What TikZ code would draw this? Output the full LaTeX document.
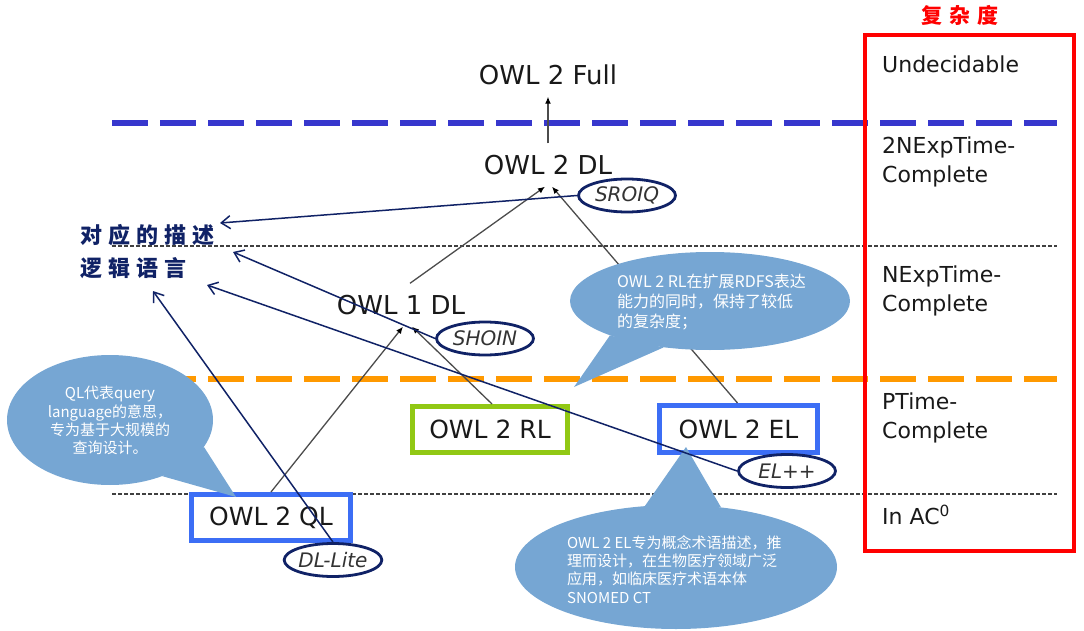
\documentclass[tikz,border=0pt]{standalone}
\usepackage{fontspec}
\setmainfont{DejaVu Sans}
\newfontfamily\cjk{Noto Sans CJK SC}
\usetikzlibrary{shapes.geometric,arrows.meta}
\definecolor{navy}{RGB}{16,34,102}
\definecolor{sepblue}{RGB}{55,55,205}
\definecolor{seporange}{RGB}{255,153,0}
\definecolor{boxblue}{RGB}{60,110,245}
\definecolor{boxgreen}{RGB}{145,200,20}
\definecolor{bubblecol}{RGB}{118,166,211}
\definecolor{txt}{RGB}{25,25,25}
\begin{document}
\begin{tikzpicture}[x=1pt,y=-1pt,
  owl/.style={inner xsep=2pt,inner ysep=12pt,text height=19pt,text depth=0pt,
    font=\fontsize{26}{30}\selectfont,text=txt},
  levelbox/.style={draw,line width=5pt,inner sep=0pt,minimum height=46pt,
    font=\fontsize{25}{30}\selectfont,text=txt},
  lab/.style={ellipse,draw=navy,line width=2.8pt,minimum width=97pt,minimum height=33pt,
    inner sep=0pt,font=\fontsize{20}{24}\selectfont\itshape,text=black!80},
  cx/.style={anchor=west,align=left,inner sep=0pt,font=\fontsize{22}{29}\selectfont,text=txt},
  grayarr/.style={draw=black!70,line width=1.3pt,-{Latex[length=7pt,width=6pt,color=black]}},
  navyarr/.style={draw=navy,line width=1.5pt,-{Straight Barb[length=9pt,width=13pt]}},
  bubble/.style={ellipse,fill=bubblecol,inner sep=0pt},
  bubtext/.style={inner sep=0pt,text=white,font=\cjk\fontsize{15}{18.3}\selectfont},
  sepline/.style={line width=6pt,dash pattern=on 36pt off 12pt},
  thinsep/.style={line width=1.2pt,draw=black!75,dash pattern=on 3.5pt off 2.5pt}
]
\useasboundingbox (0,0) rectangle (1084,631);

% separators
\draw[sepline,draw=sepblue] (112,123) -- (1057,123);
\draw[thinsep] (112,246) -- (1057,246);
\draw[sepline,draw=seporange] (112,379) -- (1057,379);
\draw[thinsep] (112,494) -- (1057,494);

% language nodes
\node[owl] (full) at (548,75) {OWL 2 Full};
\node[owl] (dl2) at (548,165) {OWL 2 DL};
\node[owl] (dl1) at (401,305) {OWL 1 DL};
\node[levelbox,draw=boxblue,minimum width=159pt] (ql) at (271,517.5) {OWL 2 QL};
\node[levelbox,draw=boxgreen,minimum width=155pt] (rl) at (490,429.5) {OWL 2 RL};
\node[levelbox,draw=boxblue,minimum width=158pt,minimum height=47pt] (el) at (738.5,429) {OWL 2 EL};

% gray connectors
\draw[grayarr] (dl2.north) -- (full.south);
\draw[grayarr] ([xshift=9pt]dl1.north) -- ([xshift=-3pt]dl2.south);
\draw[grayarr] ([xshift=-1pt]el.north) -- ([xshift=4pt]dl2.south);
\draw[grayarr] (ql.north) -- ([xshift=2pt]dl1.south);
\draw[grayarr] ([xshift=2pt]rl.north) -- ([xshift=11pt]dl1.south);

% callouts
\node[bubble,minimum width=206pt,minimum height=130pt] (qlb) at (110,420) {};
\coordinate (qltip) at (236,497);
\fill[bubblecol] (qlb.-16) -- (qltip) -- (qlb.-47) -- cycle;
\node[bubtext,align=center] (qlt) at (110,420.5) {QL代表query\\language的意思，\\专为基于大规模的\\查询设计。};

\node[bubble,minimum width=280pt,minimum height=98pt] (rlb) at (710,301) {};
\coordinate (rltip) at (574,387);
\fill[bubblecol] (rlb.-161) -- (rltip) -- (rlb.-135) -- cycle;
\node[bubtext,anchor=west,align=left,font=\cjk\fontsize{16}{20}\selectfont] (rlt) at (617,302) {OWL 2 RL在扩展RDFS表达\\能力的同时，保持了较低\\的复杂度；};

\node[bubble,minimum width=322pt,minimum height=124pt] (elb) at (676,567) {};
\coordinate (eltip) at (686,447);
\fill[bubblecol] (elb.117) -- (eltip) -- (elb.53) -- cycle;
\node[bubtext,anchor=west,align=left] (elt) at (567,569.5) {OWL 2 EL专为概念术语描述，推\\理而设计，在生物医疗领域广泛\\应用，如临床医疗术语本体\\SNOMED CT};

% logic labels
\node[lab] (sroiq) at (627,195.5) {SROIQ};
\node[lab] (shoin) at (485,338.5) {SHOIN};
\node[lab] (dllite) at (333,560) {DL-Lite};
\node[lab] (elpp) at (787,471) {EL++};

% description text and navy connectors
\node[anchor=west,align=left,inner sep=0pt,text=navy,font=\cjk\bfseries\fontsize{22}{33}\selectfont] (desc) at (80,251.5)
  {对\hspace{6pt}应\hspace{6pt}的\hspace{6pt}描\hspace{6pt}述\\逻\hspace{6pt}辑\hspace{6pt}语\hspace{6pt}言};
\coordinate (tipA) at (220,223);
\coordinate (tipB) at (233,252);
\coordinate (tipC) at (207,285);
\coordinate (tipD) at (153,291);
\draw[navyarr] (sroiq.west) -- (tipA);
\draw[navyarr] (shoin.west) -- (tipB);
\draw[navyarr] (elpp.west) -- (tipC);
\draw[navyarr] (dllite.north) -- (tipD);

% complexity column
\node[text=red,inner sep=0pt,font=\cjk\bfseries\fontsize{21}{24}\selectfont] (title) at (960,15) {复\hspace{7pt}杂\hspace{7pt}度};
\node[draw=red,line width=4pt,minimum width=209pt,minimum height=516pt,inner sep=0pt] (cbox) at (969.5,293) {};
\node[cx] (c1) at (882,64) {Undecidable};
\node[cx] (c2) at (882,161.5) {2NExpTime-\\Complete};
\node[cx] (c3) at (882,290.5) {NExpTime-\\Complete};
\node[cx] (c4) at (882,418) {PTime-\\Complete};
\node[cx] (c5) at (882,515) {In AC\textsuperscript{0}};
\end{tikzpicture}
\end{document}
